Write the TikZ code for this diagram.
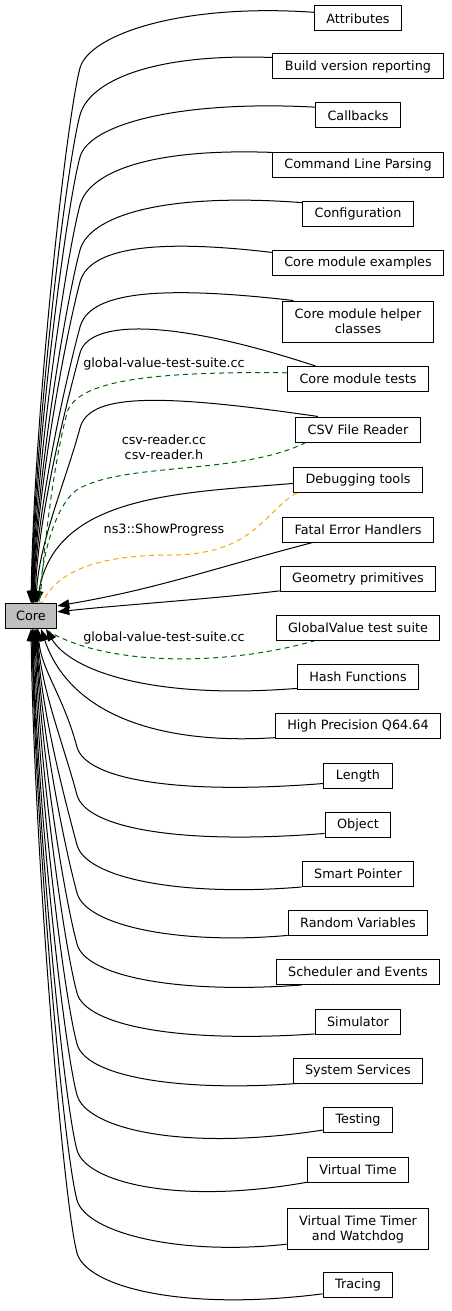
\documentclass[tikz,border=0pt]{standalone}
\usepackage{fontspec}
\newfontfamily\dvs{DejaVu Sans}
\usetikzlibrary{arrows.meta,backgrounds}
\colorlet{dep green}{green!39!black}
\definecolor{dep orange}{HTML}{FFA500}
\colorlet{core fill}{black!25}
\tikzset{
  group/.style={draw, fill=white, line width=1pt, font={\dvs\fontsize{12.8}{15}\selectfont},
    inner xsep=12pt, inner ysep=2pt, minimum height=25pt},
  twoline/.style={group, align=center, minimum height=41pt},
  dep/.style={draw, line width=1pt, -{Triangle[length=12pt,width=9pt]}},
  srcdep/.style={line width=1pt, dash pattern=on 5pt off 4pt},
  lbl/.style={font={\dvs\fontsize{12.8}{15}\selectfont}, align=center, inner sep=0pt}
}

\begin{document}
\begin{tikzpicture}[x=1pt, y=-1pt]
  \useasboundingbox (0,0) rectangle (451,1311);
  % module groups
  \node[group, fill=core fill, inner xsep=11pt] (core) at (31,616) {Core};
  \node[group] (attr)      at (358,18.5)  {Attributes};
  \node[group] (build)     at (358,66.5)  {Build version reporting};
  \node[group] (callb)     at (358,115.5) {Callbacks};
  \node[group] (cmdline)   at (358,164.5) {Command Line Parsing};
  \node[group] (config)    at (358,213.5) {Configuration};
  \node[group] (examples)  at (358,263)   {Core module examples};
  \node[twoline] (helper)  at (358,321.5) {Core module helper\\classes};
  \node[group] (tests)     at (358,379)   {Core module tests};
  \node[group] (csv)       at (358,429.5) {CSV File Reader};
  \node[group] (debug)     at (358,480)   {Debugging tools};
  \node[group] (fatal)     at (358,529.5) {Fatal Error Handlers};
  \node[group] (geom)      at (358,578.5) {Geometry primitives};
  \node[group] (gvsuite)   at (358,627.5) {GlobalValue test suite};
  \node[group] (hash)      at (358,676.5) {Hash Functions};
  \node[group] (highprec)  at (358,726)   {High Precision Q64.64};
  \node[group] (length)    at (358,775.5) {Length};
  \node[group] (object)    at (358,824.5) {Object};
  \node[group] (smartptr)  at (358,874)   {Smart Pointer};
  \node[group] (random)    at (358,923)   {Random Variables};
  \node[group] (sched)     at (358,972)   {Scheduler and Events};
  \node[group] (simulator) at (358,1021.5){Simulator};
  \node[group] (system)    at (358,1070.5){System Services};
  \node[group] (testing)   at (358,1120)  {Testing};
  \node[group] (vtime)     at (358,1169.5){Virtual Time};
  \node[twoline] (timer)   at (358,1229)  {Virtual Time Timer\\and Watchdog};
  \node[group] (tracing)   at (358,1285)  {Tracing};
  % file labels
  \node[lbl] (lbltests) at (164,364) {global-value-test-suite.cc};
  \node[lbl] (lblcsv)   at (164,447) {csv-reader.cc\\csv-reader.h};
  \node[lbl] (lbldebug) at (164,530) {ns3::ShowProgress};
  \node[lbl] (lblgv)    at (164,638) {global-value-test-suite.cc};

  \begin{scope}[on background layer]
    % groups above Core
    \foreach \n/\a/\cx/\cy/\ey/\tx in {attr/172/180/3/68/0, build/174/150/53/115/0.5,
        callb/169/180/100/157/1, cmdline/172/150/148/205/1.5, config/169/160/192/250/2,
        examples/173/150/238/282/2.5, helper/162/150/284/327/3, tests/163/170/318/353/4,
        csv/162/150/392/428/5}
      \draw[dep] (\n.\a) .. controls (\cx,\cy) and (89,\ey-33) .. (80,\ey)
        .. controls (66,\ey+52) and (34+\tx,{\ey+0.65*(604-\ey)}) .. ([xshift=\tx pt]core.north);
    \draw[dep] (debug.183) .. controls (182,493) and (55,494) .. ([xshift=6pt]core.north);
    \draw[dep] (fatal.196) .. controls (211,569) and (157,589) .. (core.21);
    \draw[dep] (geom.189) .. controls (200,600) and (120,605) .. (core.9);
    % groups below Core
    \draw[dep] (hash.191) .. controls (150,700) and (70,670) .. ([xshift=15pt]core.south);
    \draw[dep] (highprec.188) .. controls (160,745) and (70,715) .. ([xshift=10pt]core.south);
    \foreach \n/\a/\cy/\ey/\tx in {length/193/795/747/7, object/195/845/795/6.5,
        smartptr/193/897/845/6, random/190/945/893/5.5, sched/193/994/944/5,
        simulator/196/1043/993/4, system/192/1092/1044/3, testing/196/1152/1095/2,
        vtime/194/1205/1150/1.5, timer/192/1256/1200/1, tracing/194/1312/1253/0}
      \draw[dep] (\n.\a) .. controls (180,\cy) and (86,\ey+33) .. (77,\ey)
        .. controls (63,\ey-52) and (34+\tx,{\ey-0.65*(\ey-628)}) .. ([xshift=\tx pt]core.south);
    % source file links
    \draw[srcdep, dep green] (tests.175) .. controls (140,371) and (80,383) .. (68,410)
      .. controls (56,450) and (44,540) .. ([xshift=9pt]core.north);
    \draw[srcdep, dep green] (csv.194) .. controls (240,475) and (130,462) .. (80,488)
      .. controls (60,498) and (42,545) .. ([xshift=8pt]core.north);
    \draw[srcdep, dep orange] (debug.192) .. controls (265,510) and (255,555) .. (170,555)
      .. controls (90,555) and (55,575) .. ([xshift=11pt]core.north);
    \draw[srcdep, dep green] (gvsuite.197) .. controls (220,668) and (100,665) .. ([xshift=14pt]core.south);
  \end{scope}
\end{tikzpicture}
\end{document}
